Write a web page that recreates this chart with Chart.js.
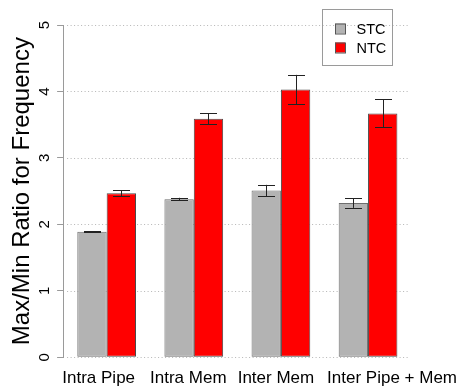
<!DOCTYPE html>
<html>
<head>
<meta charset="utf-8">
<script src="https://cdn.jsdelivr.net/npm/chart.js@4/dist/chart.umd.min.js"></script>
<style>
  html, body { margin: 0; padding: 0; background: #fff; }
  #wrap { width: 460px; height: 388px; }
</style>
</head>
<body>
<div id="wrap"><canvas id="c" width="460" height="388"></canvas></div>
<script>
// Workload categories and the two series (mean ratio with its spread)
const categories = ['Intra Pipe', 'Intra Mem', 'Inter Mem', 'Inter Pipe + Mem'];
const stcValues = [1.89, 2.38, 2.51, 2.32];
const stcErrors = [0.01, 0.02, 0.085, 0.072];
const ntcValues = [2.47, 3.59, 4.03, 3.67];
const ntcErrors = [0.043, 0.085, 0.22, 0.21];
const yTicks = [0, 1, 2, 3, 4, 5];
const seriesNames = ['STC', 'NTC'];

const FONT = '"Liberation Sans", Arial, Helvetica, sans-serif';

// Horizontal nudges for the category names so the long last one does not collide
const labelShift = [-8, -5.5, -5, 24];

// Dotted horizontal guides at each y tick, drawn under the bars
const guideLines = {
  id: 'guideLines',
  beforeDatasetsDraw(chart) {
    const { ctx, chartArea, scales: { y } } = chart;
    ctx.save();
    ctx.strokeStyle = '#b5b5b5';
    ctx.lineWidth = 1;
    ctx.setLineDash([1, 2.5]);
    yTicks.forEach(v => {
      const py = Math.round(y.getPixelForValue(v)) + 0.5;
      ctx.beginPath();
      ctx.moveTo(chartArea.left + 4, py);
      ctx.lineTo(chartArea.right - 4, py);
      ctx.stroke();
    });
    ctx.restore();
  }
};

// Category names under each group, placed from the x scale
const categoryNames = {
  id: 'categoryNames',
  afterDraw(chart) {
    const { ctx, scales: { x } } = chart;
    ctx.save();
    ctx.fillStyle = '#000';
    ctx.font = '17px ' + FONT;
    ctx.textAlign = 'center';
    ctx.textBaseline = 'middle';
    categories.forEach((name, i) => {
      ctx.fillText(name, x.getPixelForValue(i) + labelShift[i], x.top + 21);
    });
    ctx.restore();
  }
};

// Whiskers with caps for each bar
const errorBars = {
  id: 'errorBars',
  afterDatasetsDraw(chart) {
    const { ctx, scales: { y } } = chart;
    ctx.save();
    ctx.strokeStyle = '#222';
    ctx.lineWidth = 1;
    chart.data.datasets.forEach((ds, di) => {
      const meta = chart.getDatasetMeta(di);
      meta.data.forEach((bar, i) => {
        const v = ds.data[i];
        const e = ds.errors[i];
        const x = Math.round(bar.x) + 0.5;
        const yTop = y.getPixelForValue(v + e);
        const yBot = y.getPixelForValue(v - e);
        const cap = 8.5;
        ctx.beginPath();
        ctx.moveTo(x, yTop); ctx.lineTo(x, yBot);
        ctx.moveTo(x - cap, Math.round(yTop) + 0.5); ctx.lineTo(x + cap, Math.round(yTop) + 0.5);
        ctx.moveTo(x - cap, Math.round(yBot) + 0.5); ctx.lineTo(x + cap, Math.round(yBot) + 0.5);
        ctx.stroke();
      });
    });
    ctx.restore();
  }
};

// Boxed legend in the upper right
const boxLegend = {
  id: 'boxLegend',
  afterDraw(chart) {
    const { ctx } = chart;
    ctx.save();
    ctx.strokeStyle = '#9a9a9a';
    ctx.lineWidth = 1;
    ctx.strokeRect(322.5, 9.5, 70, 56);
    const rows = [28.5, 47.5];
    chart.data.datasets.forEach((ds, i) => {
      const cy = rows[i];
      ctx.fillStyle = ds.backgroundColor;
      ctx.fillRect(335, cy - 5, 10, 10);
      ctx.strokeStyle = '#555';
      ctx.strokeRect(335.5, cy - 4.5, 10, 10);
      ctx.fillStyle = '#000';
      ctx.font = '14.5px ' + FONT;
      ctx.textAlign = 'left';
      ctx.textBaseline = 'middle';
      ctx.fillText(ds.label, 356.5, cy + 1);
    });
    ctx.restore();
  }
};

new Chart(document.getElementById('c'), {
  type: 'bar',
  data: {
    labels: categories,
    datasets: [
      {
        label: seriesNames[0],
        data: stcValues,
        errors: stcErrors,
        backgroundColor: '#b3b3b3',
        borderColor: '#6e6e6e',
        borderWidth: 1,
        borderSkipped: false,
        categoryPercentage: 0.674,
        barPercentage: 1.0
      },
      {
        label: seriesNames[1],
        data: ntcValues,
        errors: ntcErrors,
        backgroundColor: '#ff0000',
        borderColor: '#4a4a4a',
        borderWidth: 1,
        borderSkipped: false,
        categoryPercentage: 0.674,
        barPercentage: 1.0
      }
    ]
  },
  options: {
    responsive: false,
    animation: false,
    devicePixelRatio: 1,
    layout: { padding: { left: 8, right: 48.4, top: 25, bottom: 0 } },
    plugins: {
      legend: { display: false },
      tooltip: { enabled: false },
      title: { display: false }
    },
    scales: {
      x: {
        grid: { display: false, drawTicks: false },
        border: { display: false },
        ticks: { display: false },
        afterFit(scale) { scale.height = 30.7; }
      },
      y: {
        min: 0,
        max: 5,
        afterBuildTicks(scale) { scale.ticks = yTicks.map(v => ({ value: v })); },
        grid: {
          drawOnChartArea: false,
          drawTicks: true,
          tickLength: 6,
          tickColor: '#9a9a9a',
          tickWidth: 1
        },
        border: { display: true, color: '#9a9a9a', width: 1 },
        ticks: {
          color: '#000',
          font: { family: FONT, size: 15 },
          minRotation: 90,
          maxRotation: 90,
          crossAlign: 'center',
          padding: 8,
          autoSkip: false
        },
        title: {
          display: true,
          text: 'Max/Min Ratio for Frequency',
          color: '#000',
          font: { family: FONT, size: 24 },
          padding: { top: 0, bottom: 0 }
        },
        afterFit(scale) { scale.width = 55.1; }
      }
    }
  },
  plugins: [guideLines, errorBars, categoryNames, boxLegend]
});
</script>
</body>
</html>
